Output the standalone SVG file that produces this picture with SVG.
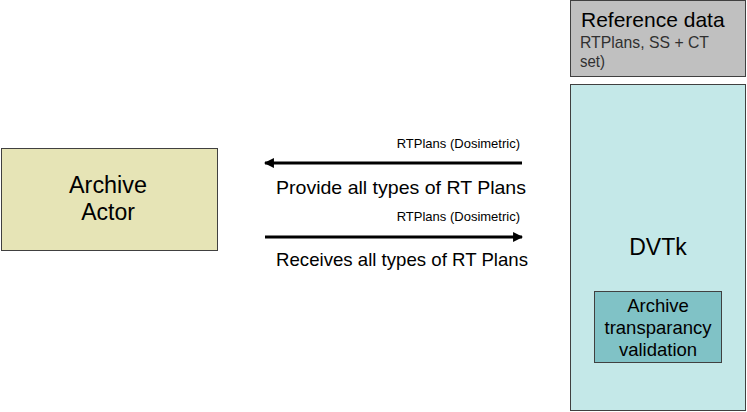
<svg xmlns="http://www.w3.org/2000/svg" width="747" height="412" viewBox="0 0 747 412">
<style>
text{font-family:"Liberation Sans",Arial,sans-serif;fill:#000}
.box{stroke:#404040;stroke-width:1}
.big{font-size:23px}
.mid{font-size:18.5px}
.small{font-size:13px}
.lbl{font-size:18.5px}
.sub{font-size:17px;fill:#303030}
.ln{stroke:#000;stroke-width:3;fill:none}
</style>
<defs>
<marker id="ah" viewBox="0 0 10 10" refX="9" refY="5" markerWidth="4" markerHeight="3.3" orient="auto" markerUnits="strokeWidth">
<path d="M0,0 L10,5 L0,10 z" fill="#000"/>
</marker>
</defs>
<rect width="747" height="412" fill="#fff"/>
<g id="reference-data">
<rect class="box" x="570.5" y="0.5" width="175" height="76" fill="#c0c0c0"/>
<text x="581" y="27" font-size="21">Reference data</text>
<text x="580" y="48" class="sub" textLength="129" lengthAdjust="spacingAndGlyphs">RTPlans, SS + CT</text>
<text x="580" y="67" class="sub" textLength="25" lengthAdjust="spacingAndGlyphs">set)</text>
</g>
<g id="dvtk">
<rect class="box" x="570.5" y="84.5" width="175" height="326" fill="#c4e8e8"/>
<text x="658" y="255" class="big" text-anchor="middle">DVTk</text>
</g>
<g id="archive-transparency">
<rect class="box" x="594.5" y="291.5" width="127" height="71" fill="#80c2c6"/>
<text x="658" y="312" class="mid" text-anchor="middle">Archive</text>
<text x="658" y="334" class="mid" text-anchor="middle">transparancy</text>
<text x="658" y="356" class="mid" text-anchor="middle">validation</text>
</g>
<g id="archive-actor">
<rect class="box" x="1.5" y="148.5" width="216" height="102" fill="#e6e4b6"/>
<text x="108" y="193" class="big" text-anchor="middle" textLength="78" lengthAdjust="spacingAndGlyphs">Archive</text>
<text x="108" y="220" class="big" text-anchor="middle">Actor</text>
</g>
<g id="connectors">
<line class="ln" x1="522" y1="163" x2="265" y2="163" marker-end="url(#ah)"/>
<line class="ln" x1="265" y1="237" x2="522" y2="237" marker-end="url(#ah)"/>
<text x="520" y="148" class="small" text-anchor="end">RTPlans (Dosimetric)</text>
<text x="276" y="194" class="lbl" textLength="250" lengthAdjust="spacingAndGlyphs">Provide all types of RT Plans</text>
<text x="520" y="221" class="small" text-anchor="end">RTPlans (Dosimetric)</text>
<text x="276" y="266" class="lbl" textLength="252" lengthAdjust="spacingAndGlyphs">Receives all types of RT Plans</text>
</g>
</svg>
